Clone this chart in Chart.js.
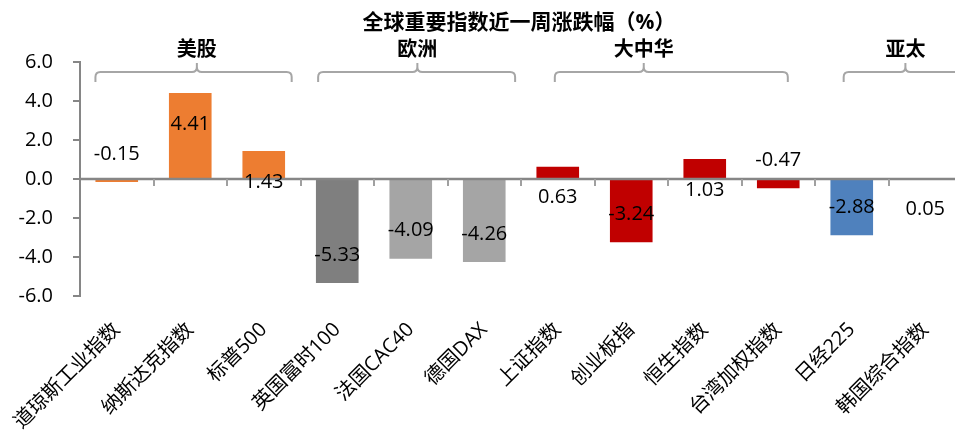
<!DOCTYPE html>
<html>
<head>
<meta charset="utf-8">
<script src="https://cdn.jsdelivr.net/npm/chart.js@4.4.0/dist/chart.umd.min.js"></script>
<style>
  html, body { margin: 0; padding: 0; background: #fff; overflow: hidden; }
  #wrap { width: 966px; height: 437px; }
</style>
</head>
<body>
<div id="wrap"><canvas id="grafica" width="966" height="437"></canvas></div>
<script>
// Datos del gráfico
const titulo = '全球重要指数近一周涨跌幅（%）';
const indices = ['道琼斯工业指数', '纳斯达克指数', '标普500', '英国富时100', '法国CAC40', '德国DAX',
  '上证指数', '创业板指', '恒生指数', '台湾加权指数', '日经225', '韩国综合指数'];
const cambios = [-0.15, 4.41, 1.43, -5.33, -4.09, -4.26, 0.63, -3.24, 1.03, -0.47, -2.88, 0.05];
const regiones = ['美股', '欧洲', '大中华', '亚太'];
const ticksY = [-6, -4, -2, 0, 2, 4, 6];

// colores por barra
const colores = ['#ED7D31', '#ED7D31', '#ED7D31', '#7F7F7F', '#A5A5A5', '#A5A5A5',
  '#C00000', '#C00000', '#C00000', '#C00000', '#4F81BD', '#4F81BD'];

Chart.defaults.font.family = "'Open Sans', 'Noto Sans CJK SC', sans-serif";
Chart.defaults.color = '#000';

// llaves de cada región: inicio, fin, centro (en unidades de categoría)
const llaves = [[-0.29, 2.38, 1.09], [2.74, 5.42, 4.09], [5.96, 9.13, 7.17], [9.89, 11.6, 10.73]];

const pluginDecoracion = {
  id: 'decoracion',
  afterDatasetsDraw(chart) {
    const ctx = chart.ctx;
    const area = chart.chartArea;
    const y = chart.scales.y;
    const catW = (area.right - area.left) / indices.length;
    const px = i => area.left + (i + 0.5) * catW;
    const y0 = y.getPixelForValue(0);
    ctx.save();

    // línea del cero
    ctx.strokeStyle = '#868686';
    ctx.lineWidth = 2.5;
    ctx.beginPath();
    ctx.moveTo(area.left, y0);
    ctx.lineTo(chart.width, y0);
    ctx.stroke();
    // marcas entre categorías
    ctx.lineWidth = 2;
    ctx.strokeStyle = '#a0a0a0';
    for (let i = 1; i <= indices.length; i++) {
      const x = Math.round(area.left + i * catW);
      ctx.beginPath();
      ctx.moveTo(x, y0);
      ctx.lineTo(x, y0 + 7);
      ctx.stroke();
    }

    // etiquetas de datos
    ctx.font = '20px ' + Chart.defaults.font.family;
    ctx.fillStyle = '#000';
    ctx.textAlign = 'center';
    ctx.textBaseline = 'middle';
    chart.getDatasetMeta(0).data.forEach((bar, i) => {
      const v = cambios[i];
      const ly = v >= 0 ? bar.y + 31 : bar.y - 28;
      ctx.fillText(v.toFixed(2), bar.x, ly);
    });

    // título
    ctx.font = 'bold 21px ' + Chart.defaults.font.family;
    ctx.fillText(titulo, (area.left + area.right) / 2 - 2, 23);

    // regiones con llaves
    ctx.font = 'bold 20px ' + Chart.defaults.font.family;
    llaves.forEach((l, k) => {
      const x0 = px(l[0]), x1 = px(l[1]), xm = px(l[2]);
      const yl = 72, ye = 82, yt = 63, r = 5;
      ctx.strokeStyle = '#a6a6a6';
      ctx.lineWidth = 2;
      ctx.beginPath();
      ctx.moveTo(x0, ye);
      ctx.lineTo(x0, yl + r);
      ctx.quadraticCurveTo(x0, yl, x0 + r, yl);
      ctx.lineTo(xm - r, yl);
      ctx.quadraticCurveTo(xm, yl, xm, yl - r);
      ctx.lineTo(xm, yt);
      ctx.moveTo(xm, yl - r);
      ctx.quadraticCurveTo(xm, yl, xm + r, yl);
      ctx.lineTo(x1 - r, yl);
      ctx.quadraticCurveTo(x1, yl, x1, yl + r);
      ctx.lineTo(x1, ye);
      ctx.stroke();
      ctx.fillStyle = '#000';
      ctx.fillText(regiones[k], xm, 50);
    });
    ctx.restore();
  }
};

new Chart(document.getElementById('grafica'), {
  type: 'bar',
  data: {
    labels: indices,
    datasets: [{
      data: cambios,
      backgroundColor: colores,
      categoryPercentage: 1,
      barPercentage: 0.58,
    }],
  },
  options: {
    responsive: false,
    animation: false,
    layout: { padding: { top: 62, right: 4, left: 0, bottom: 0 } },
    plugins: {
      legend: { display: false },
      title: { display: false },
      tooltip: { enabled: false },
    },
    scales: {
      x: {
        grid: { display: false },
        border: { display: false },
        ticks: { maxRotation: 45, minRotation: 45, padding: 14, font: { size: 20 } },
        afterFit: s => { s.height = 141; },
      },
      y: {
        min: -6,
        max: 6,
        afterBuildTicks: s => { s.ticks = ticksY.map(v => ({ value: v })); },
        grid: { drawOnChartArea: false, tickLength: 7, color: '#868686', lineWidth: 2 },
        border: { color: '#868686', width: 2 },
        ticks: { padding: 20, font: { size: 20 }, callback: v => v.toFixed(1) },
        afterFit: s => { s.width = 80; },
      },
    },
  },
  plugins: [pluginDecoracion],
});
</script>
</body>
</html>
